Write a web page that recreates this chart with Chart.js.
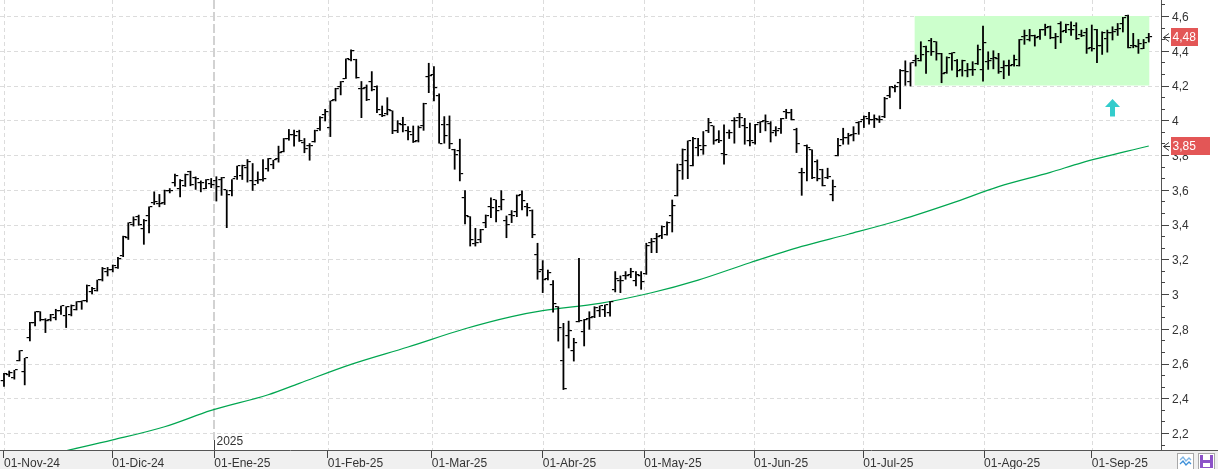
<!DOCTYPE html>
<html>
<head>
<meta charset="utf-8">
<script src="https://cdn.jsdelivr.net/npm/chart.js@4.4.0/dist/chart.umd.min.js"></script>
<style>
  html, body { margin: 0; padding: 0; background: #fff; }
  #wrap { width: 1218px; height: 469px; }
</style>
</head>
<body>
<div id="wrap"><canvas id="grafico" width="1218" height="469"></canvas></div>
<script>
// sesiones desde el 01-Nov-24 (una barra por sesion)
const openV = [2.502,2.531,2.517,2.617,2.552,2.747,2.833,2.897,2.852,2.852,2.862,2.900,2.872,2.877,2.910,2.954,2.958,3.010,3.019,3.079,
  3.125,3.136,3.149,3.217,3.322,3.398,3.446,3.374,3.450,3.523,3.520,3.523,3.594,3.638,3.603,3.619,3.703,3.667,3.638,3.604,
  3.633,3.650,3.657,3.596,3.590,3.673,3.677,3.725,3.650,3.652,3.657,3.719,3.744,3.776,3.816,3.891,3.916,3.935,3.868,3.853,
  3.872,3.950,4.033,3.956,4.119,4.192,4.238,4.349,4.349,4.180,4.186,4.219,4.192,4.033,4.036,4.052,3.937,3.975,3.937,3.917,
  3.879,3.965,4.250,4.263,4.138,3.975,3.975,3.831,3.821,3.553,3.445,3.290,3.313,3.411,3.501,3.539,3.500,3.418,3.457,3.472,
  3.572,3.501,3.476,3.226,3.140,3.086,3.054,2.925,2.617,2.760,2.670,2.840,2.779,2.856,2.868,2.904,2.910,2.890,3.025,3.073,
  3.102,3.111,3.073,3.102,3.117,3.294,3.317,3.332,3.342,3.447,3.566,3.745,3.764,3.739,3.841,3.827,3.940,3.965,3.889,3.808,
  3.927,3.994,4.013,3.965,3.879,3.869,3.985,3.994,3.981,3.937,3.950,4.046,4.042,3.946,3.697,3.850,3.827,3.758,3.716,3.668,
  3.572,3.797,3.889,3.898,3.918,3.985,4.004,4.008,4.004,4.004,4.019,4.138,4.186,4.214,4.281,4.218,4.342,4.342,4.421,4.454,
  4.448,4.383,4.271,4.383,4.339,4.287,4.281,4.291,4.325,4.291,4.333,4.352,4.352,4.300,4.310,4.319,4.314,4.479,4.460,4.483,
  4.479,4.521,4.536,4.473,4.555,4.511,4.521,4.540,4.492,4.502,4.415,4.521,4.425,4.467,4.502,4.521,4.555,4.598,4.425,4.421,
  4.410,4.473];
const highV = [2.546,2.559,2.563,2.676,2.632,2.839,2.900,2.900,2.860,2.885,2.914,2.933,2.929,2.939,2.958,2.962,3.054,3.040,3.082,3.155,
  3.155,3.169,3.213,3.335,3.412,3.446,3.456,3.431,3.504,3.590,3.575,3.600,3.609,3.692,3.661,3.692,3.709,3.676,3.653,3.661,
  3.667,3.677,3.673,3.600,3.661,3.738,3.744,3.776,3.753,3.705,3.776,3.782,3.772,3.853,3.897,3.949,3.945,3.945,3.897,3.868,
  3.945,4.023,4.065,4.113,4.186,4.225,4.355,4.407,4.353,4.225,4.205,4.282,4.200,4.084,4.132,4.056,4.000,4.019,3.965,3.969,
  3.969,4.100,4.330,4.311,4.154,4.023,4.027,3.835,3.893,3.597,3.447,3.380,3.374,3.457,3.555,3.543,3.597,3.451,3.482,3.572,
  3.595,3.524,3.486,3.294,3.194,3.140,3.079,2.929,2.833,2.846,2.747,3.207,2.856,2.900,2.929,2.933,2.939,2.958,3.131,3.106,
  3.131,3.150,3.131,3.131,3.294,3.322,3.351,3.394,3.418,3.543,3.750,3.837,3.883,3.904,3.898,3.937,4.013,3.969,3.942,3.975,
  3.946,4.017,4.042,4.013,3.985,3.979,3.994,4.033,3.994,3.965,4.013,4.065,4.065,3.956,3.726,3.860,3.831,3.774,3.720,3.726,
  3.658,3.898,3.956,3.927,3.965,3.994,4.027,4.048,4.033,4.027,4.134,4.196,4.205,4.294,4.344,4.333,4.377,4.454,4.429,4.473,
  4.454,4.387,4.367,4.390,4.352,4.348,4.329,4.339,4.435,4.544,4.396,4.402,4.387,4.344,4.348,4.377,4.467,4.521,4.525,4.492,
  4.525,4.555,4.544,4.502,4.569,4.555,4.569,4.563,4.521,4.531,4.550,4.525,4.511,4.521,4.540,4.559,4.594,4.607,4.502,4.467,
  4.467,4.502];
const lowV = [2.466,2.523,2.508,2.613,2.475,2.728,2.814,2.843,2.776,2.843,2.849,2.881,2.805,2.872,2.906,2.910,2.952,2.998,3.015,3.073,
  3.102,3.125,3.146,3.213,3.312,3.389,3.393,3.284,3.350,3.513,3.500,3.513,3.580,3.619,3.557,3.617,3.621,3.600,3.586,3.604,
  3.610,3.533,3.566,3.380,3.562,3.657,3.657,3.642,3.594,3.634,3.648,3.705,3.719,3.757,3.816,3.883,3.849,3.876,3.811,3.768,
  3.872,3.940,3.994,3.904,4.109,4.144,4.238,4.340,4.240,4.013,4.111,4.167,4.042,4.019,4.029,3.921,3.927,3.931,3.885,3.870,
  3.873,3.940,4.157,4.109,3.866,3.866,3.835,3.716,3.649,3.402,3.274,3.274,3.294,3.380,3.438,3.413,3.482,3.322,3.409,3.443,
  3.482,3.447,3.322,3.083,3.006,3.079,2.894,2.727,2.448,2.687,2.612,2.837,2.699,2.795,2.862,2.868,2.868,2.871,3.010,3.006,
  3.083,3.092,3.044,3.025,3.111,3.236,3.236,3.317,3.336,3.355,3.562,3.658,3.662,3.735,3.793,3.802,3.927,3.860,3.869,3.745,
  3.893,3.866,3.956,3.860,3.850,3.860,3.927,3.937,3.873,3.908,3.923,4.008,4.000,3.812,3.566,3.649,3.662,3.649,3.620,3.662,
  3.534,3.793,3.860,3.860,3.879,3.917,3.956,3.975,3.956,3.985,4.013,4.129,4.161,4.064,4.199,4.195,4.310,4.339,4.268,4.371,
  4.344,4.214,4.268,4.287,4.248,4.252,4.248,4.256,4.319,4.223,4.291,4.294,4.268,4.237,4.256,4.310,4.310,4.435,4.454,4.425,
  4.463,4.486,4.467,4.410,4.444,4.502,4.486,4.463,4.479,4.383,4.396,4.329,4.377,4.390,4.460,4.486,4.506,4.415,4.415,4.383,
  4.410,4.448];
const closeV = [2.542,2.546,2.563,2.670,2.632,2.833,2.897,2.849,2.843,2.881,2.900,2.929,2.925,2.933,2.954,2.962,3.044,3.029,3.079,3.146,
  3.136,3.159,3.201,3.328,3.408,3.427,3.398,3.423,3.500,3.527,3.520,3.594,3.590,3.680,3.653,3.686,3.628,3.663,3.638,3.657,
  3.625,3.615,3.667,3.571,3.661,3.738,3.734,3.757,3.630,3.657,3.661,3.776,3.769,3.811,3.893,3.916,3.910,3.878,3.834,3.853,
  3.941,4.013,4.046,4.109,4.180,4.219,4.353,4.397,4.244,4.177,4.119,4.173,4.061,4.027,4.061,3.937,3.979,3.975,3.931,3.873,
  3.956,4.096,4.257,4.186,3.866,3.912,3.866,3.802,3.693,3.451,3.308,3.292,3.370,3.449,3.495,3.476,3.540,3.399,3.447,3.562,
  3.534,3.495,3.342,3.125,3.083,3.121,2.942,2.804,2.453,2.785,2.718,2.843,2.852,2.862,2.919,2.929,2.935,2.954,3.086,3.077,
  3.106,3.125,3.111,3.067,3.274,3.298,3.328,3.386,3.409,3.505,3.706,3.831,3.879,3.890,3.850,3.854,3.985,3.879,3.879,3.802,
  3.927,3.994,4.013,3.956,3.879,3.975,3.989,3.989,3.927,3.940,4.008,4.042,4.004,3.866,3.697,3.840,3.668,3.662,3.624,3.674,
  3.616,3.850,3.898,3.908,3.923,3.989,4.019,4.004,4.008,4.000,4.123,4.192,4.192,4.281,4.275,4.329,4.352,4.377,4.390,4.390,
  4.383,4.267,4.358,4.387,4.281,4.339,4.287,4.287,4.406,4.444,4.339,4.358,4.275,4.310,4.314,4.348,4.463,4.486,4.486,4.473,
  4.517,4.531,4.473,4.479,4.506,4.550,4.521,4.467,4.486,4.410,4.410,4.425,4.502,4.502,4.506,4.525,4.588,4.415,4.425,4.440,
  4.444,4.479];

const mediaIdx = [12, 21, 31, 40, 51, 57, 67, 78, 89, 98, 104, 115, 125, 134, 144, 154, 163, 173, 183, 192, 202, 208, 221];
const mediaVal = [2.098, 2.160, 2.236, 2.330, 2.420, 2.486, 2.595, 2.695, 2.800, 2.870, 2.904, 2.946, 3.007, 3.080, 3.180,
  3.274, 3.344, 3.426, 3.523, 3.618, 3.700, 3.755, 3.852];

// eje de fechas: inicio de cada mes (posicion en sesiones)
const mesLabels = ["01-Nov-24", "01-Dic-24", "01-Ene-25", "01-Feb-25", "01-Mar-25", "01-Abr-25", "01-May-25",
  "01-Jun-25", "01-Jul-25", "01-Ago-25", "01-Sep-25"];
const mesPos = [0, 20.9, 40.6, 62.5, 82.6, 104, 123.6, 144.8, 165.9, 189.2, 210];
const anyoLabel = "2025";
const anyoPos = 40.6;

const yTicks = [2.2, 2.4, 2.6, 2.8, 3.0, 3.2, 3.4, 3.6, 3.8, 4.0, 4.2, 4.4, 4.6];

// zona verde y flecha
const zona = { desde: 175.8, hasta: 221.1, min: 4.2, max: 4.6 };
const flecha = { x: 214, punta: 4.122, base: 4.022 };

const fmt = (v, d) => String(+v.toFixed(d)).replace(".", ",");
const fuente = "'Liberation Sans', Arial, sans-serif";

const dibujo = {
  id: "dibujo",
  beforeDraw(chart) {
    const { ctx, width, height, chartArea: a } = chart;
    ctx.save();
    ctx.fillStyle = "#fff";
    ctx.fillRect(0, 0, width, height);
    ctx.fillStyle = "#f0f0f0";
    ctx.fillRect(0, a.bottom + 1, width, height - a.bottom);
    ctx.restore();
  },
  beforeDatasetsDraw(chart) {
    const { ctx, chartArea: a, scales: { x, y } } = chart;
    ctx.save();
    ctx.lineWidth = 1;
    ctx.strokeStyle = "#dcdcdc";
    ctx.setLineDash([4, 3]);
    yTicks.forEach((v) => {
      const py = Math.round(y.getPixelForValue(v)) + 0.5;
      ctx.beginPath(); ctx.moveTo(a.left, py); ctx.lineTo(a.right, py); ctx.stroke();
    });
    mesPos.forEach((p) => {
      if (p === anyoPos) return;
      const px = Math.round(x.getPixelForValue(p)) + 0.5;
      ctx.beginPath(); ctx.moveTo(px, a.top); ctx.lineTo(px, a.bottom); ctx.stroke();
    });
    // linea de cambio de anyo
    const ax = Math.round(x.getPixelForValue(anyoPos));
    ctx.strokeStyle = "#d2d2d2";
    ctx.lineWidth = 2;
    ctx.setLineDash([9, 3]);
    ctx.beginPath(); ctx.moveTo(ax, a.top); ctx.lineTo(ax, a.bottom - 10); ctx.stroke();
    ctx.setLineDash([]);

    // zona verde
    const x1 = x.getPixelForValue(zona.desde), x2 = x.getPixelForValue(zona.hasta);
    const y1 = y.getPixelForValue(zona.max), y2 = y.getPixelForValue(zona.min);
    ctx.fillStyle = "#ccffcc";
    ctx.fillRect(x1, y1, x2 - x1, y2 - y1);
    ctx.restore();
  },
  afterDatasetsDraw(chart) {
    const { ctx, scales: { x, y } } = chart;
    ctx.save();
    ctx.fillStyle = "#000";
    for (let i = 0; i < openV.length; i++) {
      const px = x.getPixelForValue(i);
      ctx.fillRect(px - 3.3, Math.round(y.getPixelForValue(openV[i])) - 1, 2.6, 1.2);
      ctx.fillRect(px + 0.7, Math.round(y.getPixelForValue(closeV[i])) - 1, 2.6, 1.2);
    }
    ctx.restore();
  },
  afterDraw(chart) {
    const { ctx, width, chartArea: a, scales: { x, y } } = chart;
    ctx.save();
    // marcas del eje de precios
    ctx.strokeStyle = "#444";
    ctx.lineWidth = 1;
    const paso = 0.2 / 3;
    for (let v = 2.2 - paso * 2; v < 4.7; v += paso) {
      const py = Math.round(y.getPixelForValue(v)) + 0.5;
      if (py < a.top || py > a.bottom) continue;
      const mayor = Math.abs(Math.round(v * 5) - v * 5) < 0.01;
      ctx.beginPath(); ctx.moveTo(a.right, py); ctx.lineTo(a.right + (mayor ? 8 : 4), py); ctx.stroke();
    }
    // linea superior del eje de fechas
    ctx.strokeStyle = "#555";
    ctx.beginPath(); ctx.moveTo(a.right, a.bottom + 0.5); ctx.lineTo(width, a.bottom + 0.5); ctx.stroke();

    // etiqueta de anyo
    const ax = Math.round(x.getPixelForValue(anyoPos)) + 0.5;
    ctx.strokeStyle = "#444";
    ctx.beginPath(); ctx.moveTo(ax, a.bottom - 10); ctx.lineTo(ax, a.bottom); ctx.stroke();
    ctx.fillStyle = "#333";
    ctx.font = "12px " + fuente;
    ctx.textBaseline = "middle";
    ctx.textAlign = "left";
    ctx.fillText(anyoLabel, ax + 2, a.bottom - 8);

    // ultimos valores
    const marcas = [
      { v: closeV[closeV.length - 1], w: 27 },
      { v: mediaVal[mediaVal.length - 1], w: 39 }
    ];
    ctx.font = "12px " + fuente;
    marcas.forEach((m) => {
      const py = Math.round(y.getPixelForValue(m.v));
      ctx.fillStyle = "#e35656";
      ctx.fillRect(a.right + 10, py - 9, m.w, 18);
      ctx.fillStyle = "#fff";
      ctx.fillText(fmt(m.v, 2), a.right + 11.5, py + 1);
      ctx.strokeStyle = "#333";
      ctx.beginPath();
      ctx.moveTo(a.right + 8, py - 3.5); ctx.lineTo(a.right + 2.5, py + 0.5); ctx.lineTo(a.right + 8, py + 4.5);
      ctx.moveTo(a.right + 2.5, py + 0.5); ctx.lineTo(a.right + 9, py + 0.5);
      ctx.stroke();
    });

    // flecha turquesa
    const fx = x.getPixelForValue(flecha.x);
    const ft = y.getPixelForValue(flecha.punta);
    const fb = y.getPixelForValue(flecha.base);
    ctx.fillStyle = "#33cccc";
    ctx.beginPath();
    ctx.moveTo(fx, ft); ctx.lineTo(fx + 7.5, ft + 8); ctx.lineTo(fx + 2.5, ft + 8); ctx.lineTo(fx + 2.5, fb);
    ctx.lineTo(fx - 2.5, fb); ctx.lineTo(fx - 2.5, ft + 8); ctx.lineTo(fx - 7.5, ft + 8);
    ctx.closePath();
    ctx.fill();

    // botones
    const by = a.bottom + 3;
    ctx.fillStyle = "#fff";
    ctx.strokeStyle = "#a8a8a8";
    ctx.fillRect(1177, by, 16, 16); ctx.strokeRect(1177.5, by + 0.5, 16, 16);
    ctx.fillRect(1198, by, 16, 16); ctx.strokeRect(1198.5, by + 0.5, 16, 16);
    ctx.lineWidth = 1.3;
    ctx.strokeStyle = "#7fb6e6";
    ctx.beginPath(); ctx.moveTo(1180, by + 7); ctx.lineTo(1183, by + 4); ctx.lineTo(1186, by + 8); ctx.lineTo(1189, by + 5); ctx.lineTo(1191, by + 7); ctx.stroke();
    ctx.strokeStyle = "#3d8fd8";
    ctx.beginPath(); ctx.moveTo(1180, by + 11); ctx.lineTo(1183, by + 8); ctx.lineTo(1186, by + 12); ctx.lineTo(1189, by + 9); ctx.lineTo(1191, by + 11); ctx.stroke();
    ctx.fillStyle = "#8c52c8";
    ctx.fillRect(1200, by + 2, 13, 13);
    ctx.fillStyle = "#fff";
    ctx.fillRect(1203, by + 2, 7, 5);
    ctx.fillRect(1203, by + 10, 7, 4);
    ctx.restore();
  }
};

new Chart(document.getElementById("grafico"), {
  type: "bar",
  data: {
    datasets: [
      {
        type: "bar",
        label: "Rango",
        data: highV.map((h, i) => ({ x: i, y: [lowV[i], h] })),
        backgroundColor: "#000",
        barThickness: 1.8,
        inflateAmount: 0,
        order: 0
      },
      {
        type: "line",
        label: "Media",
        data: mediaIdx.map((d, i) => ({ x: d, y: mediaVal[i] })),
        borderColor: "#00a650",
        borderWidth: 1.2,
        pointRadius: 0,
        cubicInterpolationMode: "monotone",
        order: 1
      }
    ]
  },
  options: {
    responsive: false,
    animation: false,
    events: [],
    layout: { padding: 0, autoPadding: false },
    plugins: { legend: { display: false }, tooltip: { enabled: false } },
    scales: {
      x: {
        type: "linear",
        min: -0.772,
        max: 223.36,
        offset: false,
        grid: { display: true, drawOnChartArea: false, drawTicks: true, tickLength: 8, tickColor: "#444", offset: false },
        border: { display: true, color: "#555" },
        afterBuildTicks: (ax) => { ax.ticks = mesPos.map((v) => ({ value: v })); },
        ticks: {
          autoSkip: false, maxRotation: 0, align: "start", padding: -2, color: "#333",
          font: { size: 12, family: fuente },
          callback: (v, i) => mesLabels[i]
        },
        afterFit: (s) => { s.height = 19; s.paddingLeft = 0; s.paddingRight = 0; }
      },
      y: {
        position: "right",
        min: 2.1022,
        max: 4.6921,
        grid: { display: false, drawTicks: false },
        border: { display: true, color: "#555" },
        afterBuildTicks: (ax) => { ax.ticks = yTicks.map((v) => ({ value: v })); },
        ticks: {
          padding: 11, color: "#333", labelOffset: 1.5,
          font: { size: 12, family: fuente },
          callback: (v) => fmt(v, 1)
        },
        afterFit: (s) => { s.width = 57; s.paddingTop = 0; s.paddingBottom = 0; }
      }
    }
  },
  plugins: [dibujo]
});
</script>
</body>
</html>
